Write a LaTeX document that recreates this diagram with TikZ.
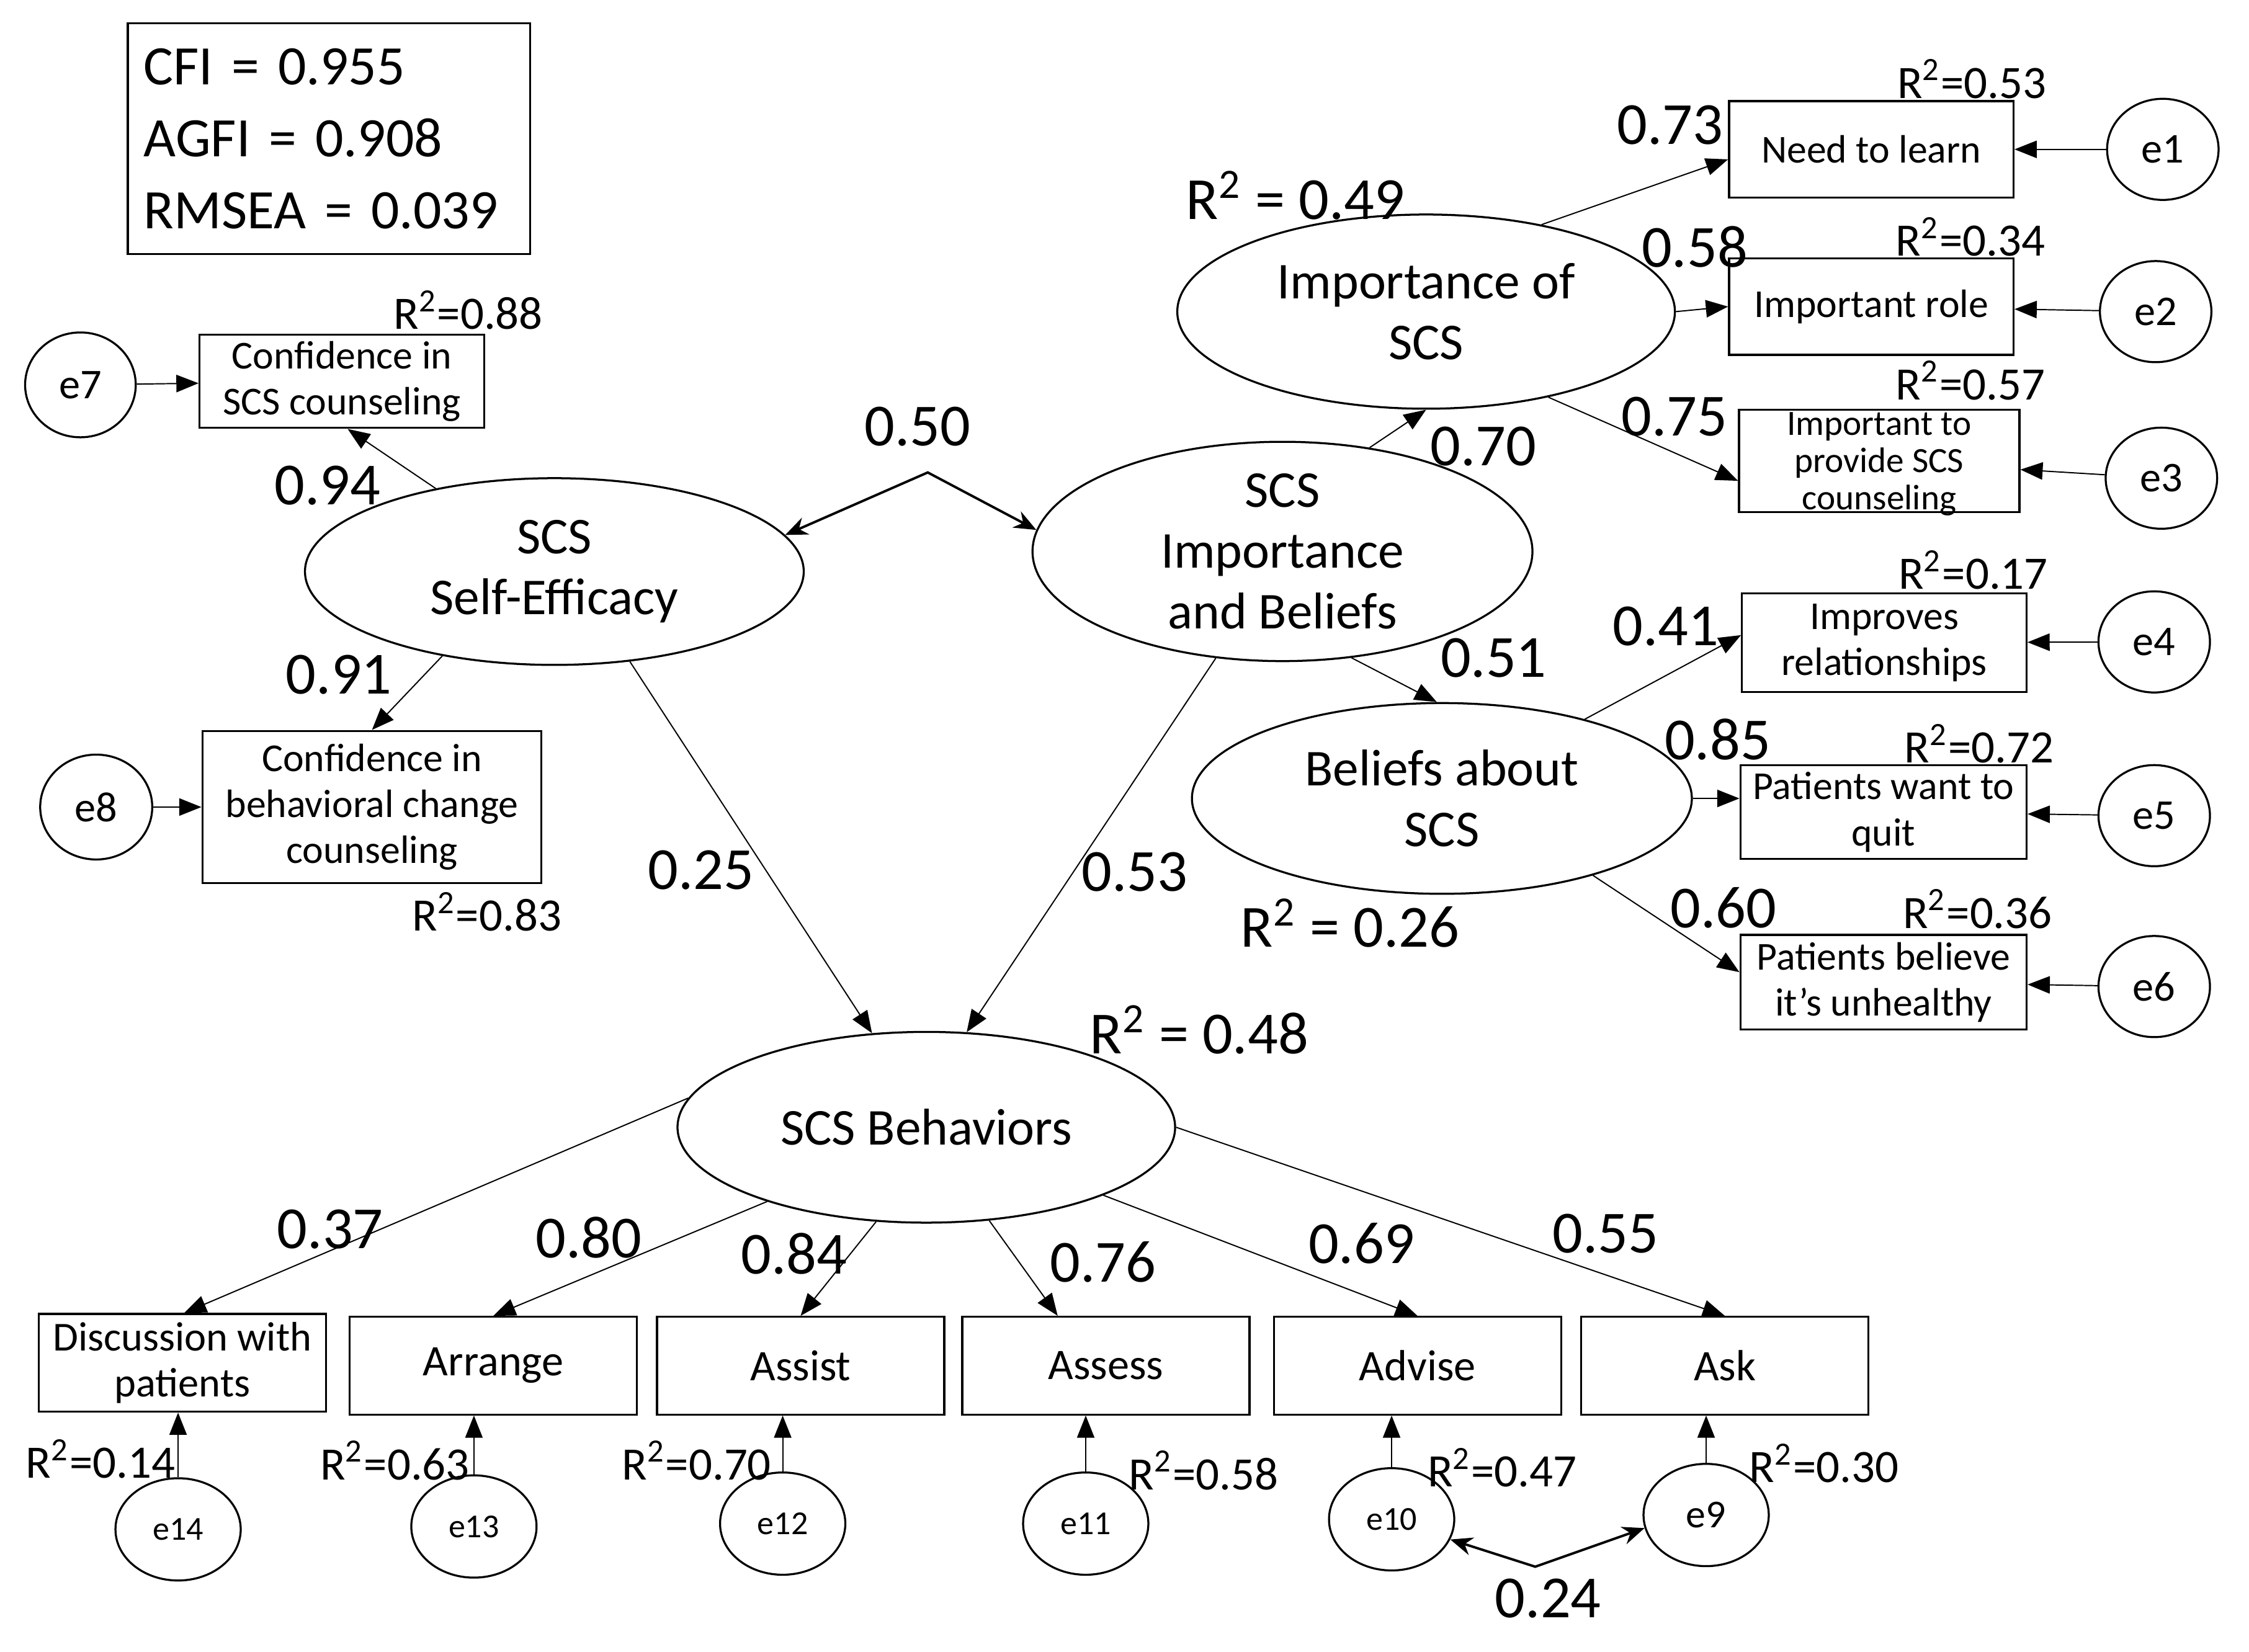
\documentclass[tikz,border=0pt]{standalone}
\usepackage{fontspec}
\setmainfont{Carlito}
\usetikzlibrary{arrows.meta,shapes.geometric}

\begin{document}
\begin{tikzpicture}[x=0.0125cm,y=-0.0125cm,
  lat/.style={ellipse,draw,line width=0.5pt,inner sep=0pt,minimum width=4.33cm,minimum height=1.66cm,align=center,font=\fontsize{12.8}{15}\selectfont},
  obs/.style={rectangle,draw,line width=0.5pt,inner sep=0pt,align=center,font=\fontsize{9.8}{11.4}\selectfont},
  act/.style={obs,minimum width=2.5cm,minimum height=0.85cm,font=\fontsize{10.8}{11.4}\selectfont},
  err/.style={ellipse,draw,line width=0.5pt,inner sep=0pt,minimum width=0.97cm,minimum height=0.88cm,font=\fontsize{10.5}{12}\selectfont},
  errb/.style={err,minimum width=1.09cm,minimum height=0.89cm,font=\fontsize{8.3}{10}\selectfont},
  coef/.style={inner sep=0pt,font=\fontsize{14.8}{16}\selectfont},
  rsq/.style={inner sep=0pt,font=\fontsize{11.5}{13}\selectfont},
  load/.style={-{Triangle[length=5.5pt,width=4.3pt]},line width=0.3pt},
  cov/.style={{Stealth[length=5.5pt,width=4.5pt,inset=1.8pt]}-{Stealth[length=5.5pt,width=4.5pt,inset=1.8pt]},line width=0.6pt}]
\useasboundingbox (0,0) rectangle (1566,1150);

\node[draw,line width=0.5pt,minimum width=3.5cm,minimum height=2.01cm,text width=3.22cm,inner xsep=0.14cm,align=left,font=\fontsize{13.8}{17.8}\selectfont] (fit) at (229,96.5) {CFI = 0.955\\AGFI = 0.908\\RMSEA = 0.039};

\node[lat,minimum width=4.34cm,minimum height=1.625cm] (se) at (386,398) {SCS\\Self-Efficacy};
\node[lat,minimum width=4.35cm] (sib) at (893,384) {SCS\\Importance\\and Beliefs};
\node[lat,minimum height=1.69cm] (imp) at (993,217) {Importance of\\SCS};
\node[lat,minimum width=4.35cm] (bel) at (1004,556) {Beliefs about\\SCS};
\node[lat] (beh) at (645,785) {SCS Behaviors};

\node[obs,minimum width=2.475cm,minimum height=0.8125cm] (conf1) at (238,265.5) {Confidence in\\SCS counseling};
\node[obs,minimum width=2.95cm,minimum height=1.325cm] (conf2) at (259,562) {Confidence in\\behavioral change\\counseling};
\node[err,minimum width=0.9625cm,minimum height=0.9125cm] (e7) at (56,268) {e7};
\node[err,minimum width=0.975cm,minimum height=0.9125cm] (e8) at (67,562) {e8};

\node[obs,minimum width=2.475cm,minimum height=0.84cm] (learn) at (1303,104) {Need to learn};
\node[obs,minimum width=2.475cm,minimum height=0.84cm] (role) at (1303,213.5) {Important role};
\node[obs,minimum width=2.44cm,minimum height=0.89cm,text depth=0pt,font=\fontsize{8.8}{9.2}\selectfont] (provide) at (1308.5,321) {Important to\\provide SCS\\counseling};
\node[obs,minimum width=2.475cm,minimum height=0.86cm] (improves) at (1312,447.5) {Improves\\relationships};
\node[obs,minimum width=2.49cm,minimum height=0.8125cm] (want) at (1311.5,565.5) {Patients want to\\quit};
\node[obs,minimum width=2.49cm,minimum height=0.825cm] (believe) at (1311.5,684) {Patients believe\\it’s unhealthy};
\node[err] (e1) at (1506,104) {e1};
\node[err] (e2) at (1501,217) {e2};
\node[err] (e3) at (1505,333) {e3};
\node[err] (e4) at (1500,447) {e4};
\node[err] (e5) at (1500,568) {e5};
\node[err] (e6) at (1500,687) {e6};

\node[act,font=\fontsize{10.2}{11.4}\selectfont] (disc) at (127,949) {Discussion with\\patients};
\node[act] (arrange) at (343.5,951) {Arrange};
\node[act] (assist) at (557.5,951) {Assist};
\node[act] (assess) at (770,951) {Assess};
\node[act] (advise) at (987,951) {Advise};
\node[act] (ask) at (1201,951) {Ask};
\node[errb] (e14) at (124,1065) {e14};
\node[errb] (e13) at (330,1063) {e13};
\node[errb] (e12) at (545,1061) {e12};
\node[errb] (e11) at (756,1061) {e11};
\node[errb] (e10) at (969,1058) {e10};
\node[errb,font=\fontsize{9.8}{11}\selectfont] (e9) at (1188,1055) {e9};

\coordinate (cSE) at (646,329);
\coordinate (cE) at (1069,1091);

\draw[load] (e7) -- (conf1);
\draw[load] (e8) -- (conf2);
\draw[load] (se.145) -- (conf1.-83);
\draw[load] (se.-143) -- (conf2.north);
\draw[load] (se.-50) -- (beh.120);
\draw[load] (sib.-122) -- (beh.67);
\draw[cov] (se.9) -- (cSE) -- (sib.175);
\draw[load] (sib.50) -- (imp.south);
\draw[load] (sib.-57) -- (bel.93);
\draw[load] (imp.37) -- (learn.184);
\draw[load] (imp.east) -- (role.west);
\draw[load] (imp.-35) -- (provide.188);
\draw[load] (bel.29) -- (improves.177);
\draw[load] (bel.east) -- (want.west |- bel.east);
\draw[load] (bel.-27) -- (believe.176);
\foreach \e/\b in {e1/learn,e2/role,e3/provide,e4/improves,e5/want,e6/believe}
  \draw[load] (\e) -- (\b);
\draw[load] (beh.173) -- (disc.88);
\draw[load] (beh.-155) -- (arrange.north);
\draw[load] (beh.-118) -- (assist.north);
\draw[load] (beh.-56) -- (assess.134);
\draw[load] (beh.-21) -- (advise.north);
\draw[load] (beh.east) -- (ask.north);
\foreach \e/\b in {e14/disc,e13/arrange,e12/assist,e11/assess,e10/advise,e9/ask}
  \draw[load] (\e.north) -- (\e.north |- \b.south);
\draw[cov] (e10.-19) -- (cE) -- (e9.192);

\node[rsq] (r88) at (326,216) {R\textsuperscript{2}=0.88};
\node[coef] (c94) at (228,338) {0.94};
\node[coef] (c91) at (236,470) {0.91};
\node[rsq] (r83) at (339,635) {R\textsuperscript{2}=0.83};
\node[coef] (c25) at (488,606) {0.25};
\node[coef] (c50) at (639,297) {0.50};
\node[coef] (c53) at (790,607) {0.53};
\node[coef] (c70) at (1033,311) {0.70};
\node[coef] (r49) at (902,136) {R\textsuperscript{2} = 0.49};
\node[coef] (c73) at (1163,87) {0.73};
\node[rsq] (r53) at (1373,55) {R\textsuperscript{2}=0.53};
\node[coef] (c58) at (1180,172) {0.58};
\node[rsq] (r34) at (1372,165) {R\textsuperscript{2}=0.34};
\node[coef] (c75) at (1166,290) {0.75};
\node[rsq] (r57) at (1372,265) {R\textsuperscript{2}=0.57};
\node[coef] (c41) at (1160,436) {0.41};
\node[rsq] (r17) at (1374,397) {R\textsuperscript{2}=0.17};
\node[coef] (c51) at (1040,458) {0.51};
\node[coef] (c85) at (1196,515) {0.85};
\node[rsq] (r72) at (1378,518) {R\textsuperscript{2}=0.72};
\node[coef] (c60) at (1200,632) {0.60};
\node[rsq] (r36) at (1377,633) {R\textsuperscript{2}=0.36};
\node[coef] (r26) at (940,643) {R\textsuperscript{2} = 0.26};
\node[coef] (r48) at (835,717) {R\textsuperscript{2} = 0.48};
\node[coef] (c37) at (230,856) {0.37};
\node[coef] (c80) at (410,862) {0.80};
\node[coef] (c84) at (553,873) {0.84};
\node[coef] (c76) at (768,879) {0.76};
\node[coef] (c69) at (948,866) {0.69};
\node[coef] (c55) at (1118,859) {0.55};
\node[rsq] (r14) at (70,1016) {R\textsuperscript{2}=0.14};
\node[rsq] (r63) at (275,1017) {R\textsuperscript{2}=0.63};
\node[rsq] (r70) at (485,1017) {R\textsuperscript{2}=0.70};
\node[rsq] (r58) at (838,1024) {R\textsuperscript{2}=0.58};
\node[rsq] (r47) at (1046,1022) {R\textsuperscript{2}=0.47};
\node[rsq] (r30) at (1270,1019) {R\textsuperscript{2}=0.30};
\node[coef] (c24) at (1078,1113) {0.24};
\end{tikzpicture}
\end{document}
